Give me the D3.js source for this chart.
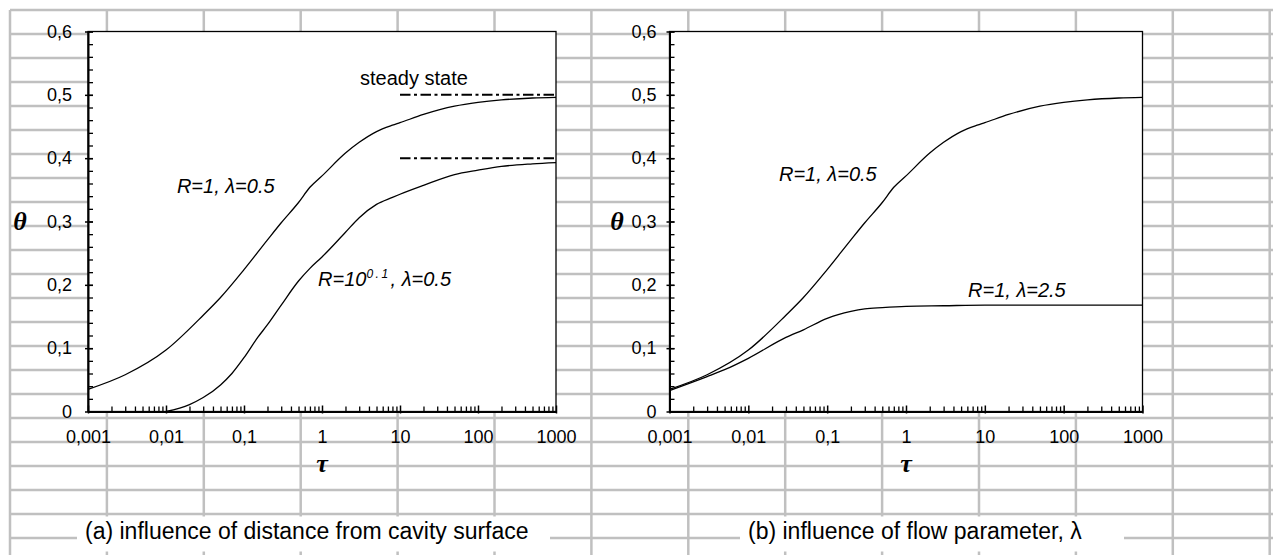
<!DOCTYPE html>
<html>
<head>
<meta charset="utf-8">
<script src="https://cdn.jsdelivr.net/npm/d3@7"></script>
<style>
  body { margin: 0; background: #fff; }
  svg text { font-family: "Liberation Sans", Arial, sans-serif; fill: #000; }
</style>
</head>
<body>
<svg id="chart" width="1273" height="555"></svg>
<script>
// curve R=1, lambda=0.5 (same in both panels)
const tauR1 = [0.001, 0.003, 0.01, 0.03, 0.05, 0.1, 0.2, 0.3, 0.5, 0.7, 1, 2, 3, 5, 8, 10, 20, 50, 100, 200, 500, 1000];
const thetaR1 = [0.035, 0.058, 0.097, 0.152, 0.180, 0.224, 0.271, 0.298, 0.330, 0.354, 0.372, 0.408, 0.425, 0.442, 0.452, 0.456, 0.469, 0.482, 0.488, 0.492, 0.495, 0.496];
// curve R=10^0.1, lambda=0.5
const tauR10 = [0.01, 0.02, 0.03, 0.05, 0.07, 0.1, 0.15, 0.2, 0.3, 0.5, 0.7, 1, 2, 3, 5, 8, 10, 20, 50, 100, 200, 500, 1000];
const thetaR10 = [0, 0.011, 0.022, 0.042, 0.060, 0.085, 0.117, 0.137, 0.168, 0.206, 0.226, 0.244, 0.283, 0.306, 0.327, 0.338, 0.343, 0.357, 0.374, 0.381, 0.387, 0.391, 0.393];
// curve R=1, lambda=2.5
const tauL25 = [0.001, 0.003, 0.005, 0.01, 0.03, 0.05, 0.1, 0.2, 0.3, 0.5, 1, 3, 10, 100, 1000];
const thetaL25 = [0.033, 0.055, 0.066, 0.084, 0.117, 0.129, 0.147, 0.158, 0.162, 0.164, 0.166, 0.167, 0.168, 0.168, 0.168];
// steady state levels
const steadyTau = [10, 1000];
const steadyTheta = [0.5, 0.4];

const xTicks = [0.001, 0.01, 0.1, 1, 10, 100, 1000];
const xTickLabels = ["0,001", "0,01", "0,1", "1", "10", "100", "1000"];
const yTicks = [0, 0.1, 0.2, 0.3, 0.4, 0.5, 0.6];
const yTickLabels = ["0", "0,1", "0,2", "0,3", "0,4", "0,5", "0,6"];

const svg = d3.select("#chart");

// SPREADSHEET GRID
const grid = svg.append("g").attr("stroke", "#c0c0c0").attr("stroke-width", 2.5);
d3.range(0, 14).forEach((i) => {
  const gx = 10 + i * 96.9;
  grid.append("line").attr("x1", gx).attr("x2", gx).attr("y1", 10).attr("y2", 560);
});
d3.range(0, 23).forEach((j) => {
  const gy = 10 + j * 24;
  grid.append("line").attr("x1", 10).attr("x2", 1273).attr("y1", gy).attr("y2", gy);
});

const line = (x, y) =>
  d3.line()
    .x((d) => x(d[0]))
    .y((d) => y(d[1]))
    .curve(d3.curveMonotoneX);

function drawPanel(p) {
  const x = d3.scaleLog().domain([0.001, 1000]).range([p.left, p.right]);
  const y = d3.scaleLinear().domain([0, 0.6]).range([411.5, 31.5]);

  const g = svg.append("g");

  // plot area
  g.append("rect")
    .attr("x", p.left)
    .attr("y", y(0.6))
    .attr("width", p.right - p.left)
    .attr("height", y(0) - y(0.6))
    .attr("fill", "#fff")
    .attr("stroke", "#000")
    .attr("stroke-width", 1.3);

  // minor y ticks
  g.append("g")
    .attr("transform", `translate(${p.left},0)`)
    .call(d3.axisLeft(y).tickValues(d3.range(0, 0.6001, 0.02)).tickSize(-5).tickFormat(""))
    .call((s) => s.select(".domain").remove())
    .selectAll("line").attr("stroke", "#000").attr("stroke-width", 1.3);

  // major y axis
  const yAx = g.append("g")
    .attr("transform", `translate(${p.left},0)`)
    .call(
      d3.axisLeft(y)
        .tickValues(yTicks)
        .tickFormat((d, i) => yTickLabels[i])
        .tickSizeInner(-5)
        .tickSizeOuter(0)
        .tickPadding(p.yPad)
    )
    .attr("font-size", 18)
    .attr("font-family", "Liberation Sans, Arial, sans-serif");
  yAx.select(".domain").attr("stroke", "#000").attr("stroke-width", 2);
  yAx.selectAll(".tick line").attr("x1", -3).attr("stroke-width", 1.5);

  // minor x ticks
  g.append("g")
    .attr("transform", `translate(0,${y(0)})`)
    .call(
      d3.axisBottom(x)
        .tickValues(x.ticks().filter((t) => !xTicks.some((m) => Math.abs(m - t) / m < 1e-6)))
        .tickSize(-5)
        .tickFormat("")
    )
    .call((s) => s.select(".domain").remove())
    .selectAll("line").attr("stroke", "#000").attr("stroke-width", 1.3);

  // major x axis
  const xAx = g.append("g")
    .attr("transform", `translate(0,${y(0)})`)
    .call(
      d3.axisBottom(x)
        .tickValues(xTicks)
        .tickFormat((d, i) => xTickLabels[i])
        .tickSizeInner(-6)
        .tickSizeOuter(0)
        .tickPadding(18.5)
    )
    .attr("font-size", 18)
    .attr("font-family", "Liberation Sans, Arial, sans-serif");
  xAx.select(".domain").attr("stroke", "#000").attr("stroke-width", 2);
  xAx.selectAll(".tick line").attr("y1", 2).attr("stroke-width", 1.5);

  // axis titles
  g.append("text")
    .attr("x", (p.left + p.right) / 2)
    .attr("y", 472)
    .attr("text-anchor", "middle")
    .style("font-family", "Liberation Serif, Times New Roman, serif")
    .style("font-weight", "bold")
    .style("font-style", "italic")
    .style("font-size", "26px")
    .text("τ");
  g.append("text")
    .attr("x", p.thetaX)
    .attr("y", y(0.3) + 8)
    .attr("text-anchor", "middle")
    .style("font-family", "Liberation Serif, Times New Roman, serif")
    .style("font-weight", "bold")
    .style("font-style", "italic")
    .style("font-size", "26px")
    .text("θ");

  // steady state
  if (p.steady) {
    steadyTheta.forEach((v) => {
      g.append("path")
        .attr("d", line(x, y)(steadyTau.map((t) => [t, v])))
        .attr("fill", "none")
        .attr("stroke", "#000")
        .attr("stroke-width", 2)
        .attr("stroke-dasharray", "10.5,3.5,3,3.5");
    });
  }

  // curves
  p.series.forEach((s) => {
    g.append("path")
      .attr("d", line(x, y)(s.tau.map((t, i) => [t, s.theta[i]])))
      .attr("fill", "none")
      .attr("stroke", "#000")
      .attr("stroke-width", 1.3);
  });

  // curve labels
  p.labels.forEach((l) => {
    const t = g.append("text")
      .attr("x", x(l.tau))
      .attr("y", y(l.theta))
      .style("font-size", "20px")
      .style("font-style", l.italic ? "italic" : "normal");
    l.parts.forEach((part) => {
      const ts = t.append("tspan").text(part.text);
      if (part.sup) {
        ts.attr("dy", -8).style("font-size", "12px").attr("letter-spacing", 2.5);
      } else if (part.after) {
        ts.attr("dy", 8).attr("letter-spacing", 0);
      }
    });
  });
}

// PANEL A
drawPanel({
  left: 88,
  right: 556,
  yPad: 16,
  thetaX: 20,
  steady: true,
  series: [
    { tau: tauR1, theta: thetaR1 },
    { tau: tauR10, theta: thetaR10 },
  ],
  labels: [
    { tau: 0.0138, theta: 0.345, italic: true, parts: [{ text: "R=1, λ=0.5" }] },
    {
      tau: 0.89, theta: 0.198, italic: true,
      parts: [{ text: "R=10" }, { text: "0.1", sup: true }, { text: ", λ=0.5", after: true }],
    },
    { tau: 3.07, theta: 0.516, italic: false, parts: [{ text: "steady state" }] },
  ],
});

// PANEL B
drawPanel({
  left: 669.5,
  right: 1142.5,
  yPad: 13,
  thetaX: 617,
  steady: false,
  series: [
    { tau: tauR1, theta: thetaR1 },
    { tau: tauL25, theta: thetaL25 },
  ],
  labels: [
    { tau: 0.0245, theta: 0.364, italic: true, parts: [{ text: "R=1, λ=0.5" }] },
    { tau: 6.12, theta: 0.181, italic: true, parts: [{ text: "R=1, λ=2.5" }] },
  ],
});

// CAPTIONS
const captions = [
  { x0: 77, x1: 550, text: "(a) influence of distance from cavity surface" },
  { x0: 740, x1: 1124, text: "(b) influence of flow parameter, λ" },
];
captions.forEach((c) => {
  svg.append("rect")
    .attr("x", c.x0)
    .attr("y", 516.5)
    .attr("width", c.x1 - c.x0)
    .attr("height", 35)
    .attr("fill", "#fff");
  svg.append("text")
    .attr("x", c.x0 + 8)
    .attr("y", 539)
    .style("font-size", "23px")
    .text(c.text);
});
</script>
</body>
</html>
